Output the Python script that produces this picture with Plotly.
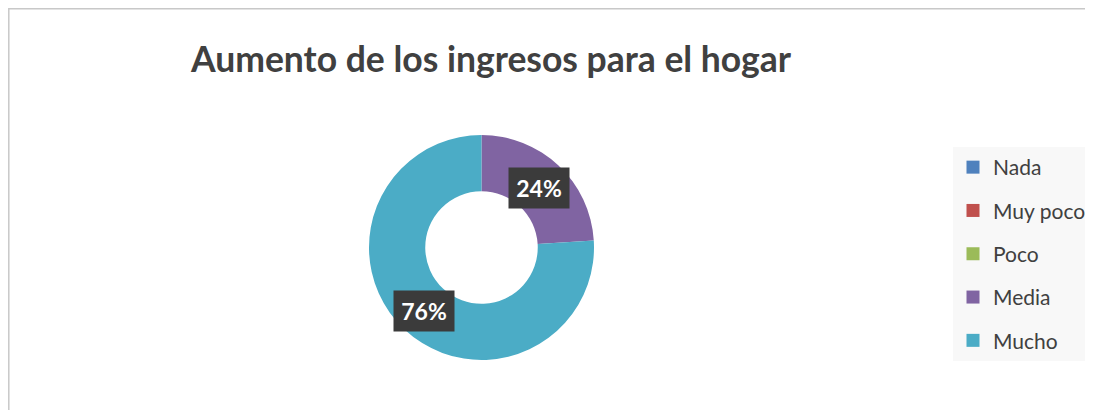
import math
import plotly.graph_objects as go

categories = ["Nada", "Muy poco", "Poco", "Media", "Mucho"]
values = [0, 0, 0, 24, 76]
colors = ["#4F81BD", "#C0504D", "#9BBB59", "#8064A2", "#4BACC6"]
title_text = "Aumento de los ingresos para el hogar"

OFF = 8  # page body margin
FW, FH = 1085, 402


def px(x):
    return (x - OFF) / FW


def py(y):
    return 1 - (y - OFF) / FH


cx, cy, R = 481.5, 247.5, 112.5
hole = 0.5

fig = go.Figure()
fig.add_trace(go.Pie(
    labels=categories, values=values,
    marker=dict(colors=colors, line=dict(width=0)),
    hole=hole, sort=False, direction="clockwise", rotation=0,
    textinfo="none", showlegend=False, hoverinfo="label+percent",
    domain=dict(x=[px(cx - R), px(cx + R)], y=[py(cy + R), py(cy - R)]),
))

for i, (c, col) in enumerate(zip(categories, colors)):
    fig.add_trace(go.Scatter(
        x=[None], y=[None], mode="markers", name=c,
        marker=dict(symbol="square", size=13, color=col),
        legendgroup=f"g{i}", showlegend=True,
    ))

total = sum(values)
cum = 0
annotations = []
rmid = R * (1 + hole) / 2
for v in values:
    if v > 0:
        mid = (cum + v / 2) / total * 2 * math.pi
        lx = cx + rmid * math.sin(mid)
        ly = cy - rmid * math.cos(mid) + 2
        annotations.append(dict(
            x=px(lx), y=py(ly), xref="paper", yref="paper",
            text=f"<b>{round(v / total * 100)}%</b>", showarrow=False,
            font=dict(family="Lato", size=23, color="white"),
            bgcolor="#3b3b3b", width=58, height=38, borderpad=1,
            xanchor="center", yanchor="middle",
        ))
    cum += v

fig.update_layout(
    width=FW, height=FH,
    margin=dict(l=0, r=0, t=0, b=0),
    paper_bgcolor="white", plot_bgcolor="white",
    title=dict(text=f"<b>{title_text}</b>", x=px(491), xanchor="center",
               y=py(60), yanchor="middle",
               font=dict(family="Lato", size=35.5, color="#404040")),
    xaxis=dict(visible=False), yaxis=dict(visible=False),
    legend=dict(x=px(953), y=py(147), xanchor="left", yanchor="top",
                bgcolor="#f8f8f8", font=dict(family="Lato", size=21, color="#404040"),
                tracegroupgap=13, itemwidth=30),
    annotations=annotations,
    shapes=[dict(type="rect", xref="paper", yref="paper",
                 x0=0.8 / FW, x1=1.05, y0=-0.05, y1=1 - 0.8 / FH,
                 line=dict(color="#c8c8c8", width=1.5))],
)

fig.write_html("out.html")
